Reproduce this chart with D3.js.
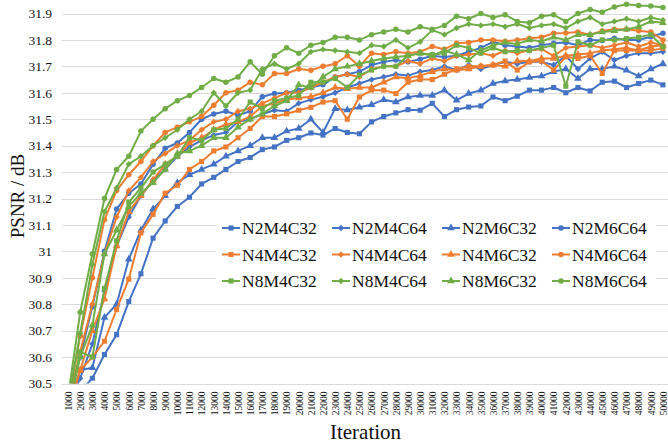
<!DOCTYPE html>
<html>
<head>
<meta charset="utf-8">
<script src="https://cdn.jsdelivr.net/npm/d3@7"></script>
<style>
  body { margin: 0; background: #fff; }
  svg { display: block; }
  svg text { font-family: 'Liberation Serif', 'Times New Roman', serif; }
</style>
</head>
<body>
<svg id="chart" width="668" height="443"></svg>
<script>
const iterations = [1000, 2000, 3000, 4000, 5000, 6000, 7000, 8000, 9000, 10000,
  11000, 12000, 13000, 14000, 15000, 16000, 17000, 18000, 19000, 20000,
  21000, 22000, 23000, 24000, 25000, 26000, 27000, 28000, 29000, 30000,
  31000, 32000, 33000, 34000, 35000, 36000, 37000, 38000, 39000, 40000,
  41000, 42000, 43000, 44000, 45000, 46000, 47000, 48000, 49000, 50000];

const yTicks = [30.5, 30.6, 30.7, 30.8, 30.9, 31, 31.1, 31.2, 31.3, 31.4, 31.5, 31.6, 31.7, 31.8, 31.9];

const n2m4c32 = [30.42, 30.47, 30.52, 30.61, 30.685, 30.81, 30.915, 31.05, 31.115, 31.17,
  31.205, 31.255, 31.28, 31.31, 31.34, 31.355, 31.385, 31.395, 31.42, 31.43,
  31.448, 31.44, 31.465, 31.45, 31.445, 31.49, 31.51, 31.524, 31.536, 31.534,
  31.56, 31.51, 31.536, 31.546, 31.55, 31.584, 31.57, 31.587, 31.61, 31.61,
  31.62, 31.60, 31.62, 31.607, 31.64, 31.644, 31.62, 31.635, 31.648, 31.63];
const n2m4c64 = [30.42, 30.52, 30.65, 30.85, 31.02, 31.13, 31.21, 31.27, 31.31, 31.36,
  31.395, 31.42, 31.44, 31.45, 31.49, 31.50, 31.52, 31.534, 31.53, 31.56,
  31.574, 31.585, 31.60, 31.62, 31.635, 31.65, 31.66, 31.67, 31.665, 31.68,
  31.686, 31.70, 31.686, 31.705, 31.69, 31.705, 31.717, 31.71, 31.717, 31.717,
  31.705, 31.74, 31.69, 31.73, 31.755, 31.724, 31.74, 31.75, 31.75, 31.755];
const n2m6c32 = [30.42, 30.55, 30.56, 30.75, 30.80, 30.97, 31.08, 31.16, 31.21, 31.26,
  31.29, 31.31, 31.33, 31.36, 31.38, 31.40, 31.43, 31.43, 31.455, 31.465,
  31.50, 31.45, 31.54, 31.535, 31.545, 31.555, 31.574, 31.565, 31.584, 31.59,
  31.59, 31.61, 31.572, 31.597, 31.61, 31.635, 31.645, 31.65, 31.658, 31.663,
  31.68, 31.69, 31.654, 31.69, 31.69, 31.70, 31.685, 31.663, 31.69, 31.71];
const n2m6c64 = [30.43, 30.60, 30.79, 31.00, 31.16, 31.22, 31.255, 31.33, 31.39, 31.41,
  31.45, 31.50, 31.52, 31.53, 31.515, 31.53, 31.585, 31.597, 31.60, 31.61,
  31.62, 31.63, 31.66, 31.67, 31.68, 31.705, 31.717, 31.724, 31.717, 31.727,
  31.74, 31.735, 31.74, 31.755, 31.77, 31.793, 31.78, 31.775, 31.77, 31.78,
  31.787, 31.79, 31.78, 31.80, 31.798, 31.806, 31.80, 31.80, 31.812, 31.825];

const n4m4c32 = [30.40, 30.55, 30.60, 30.66, 30.78, 30.895, 31.07, 31.14, 31.22, 31.25,
  31.31, 31.34, 31.38, 31.395, 31.43, 31.465, 31.51, 31.51, 31.52, 31.534,
  31.545, 31.565, 31.57, 31.50, 31.584, 31.61, 31.61, 31.597, 31.64, 31.65,
  31.65, 31.67, 31.69, 31.70, 31.70, 31.705, 31.72, 31.686, 31.717, 31.72,
  31.686, 31.736, 31.73, 31.74, 31.673, 31.76, 31.76, 31.76, 31.76, 31.768];
const n4m4c64 = [30.40, 30.62, 30.80, 30.99, 31.13, 31.23, 31.28, 31.34, 31.37, 31.40,
  31.42, 31.46, 31.49, 31.50, 31.53, 31.54, 31.56, 31.58, 31.60, 31.60,
  31.62, 31.64, 31.66, 31.67, 31.66, 31.69, 31.70, 31.70, 31.72, 31.71,
  31.73, 31.72, 31.74, 31.745, 31.75, 31.74, 31.76, 31.75, 31.76, 31.765,
  31.74, 31.77, 31.775, 31.78, 31.77, 31.78, 31.79, 31.775, 31.79, 31.78];
const n4m6c32 = [30.40, 30.55, 30.70, 30.82, 31.02, 31.15, 31.21, 31.27, 31.33, 31.36,
  31.41, 31.43, 31.46, 31.48, 31.49, 31.51, 31.55, 31.56, 31.575, 31.58,
  31.585, 31.60, 31.62, 31.615, 31.62, 31.62, 31.64, 31.66, 31.655, 31.665,
  31.68, 31.69, 31.685, 31.69, 31.70, 31.705, 31.70, 31.72, 31.72, 31.73,
  31.73, 31.74, 31.745, 31.75, 31.76, 31.765, 31.77, 31.76, 31.775, 31.78];
const n4m6c64 = [30.42, 30.68, 30.90, 31.12, 31.23, 31.29, 31.34, 31.40, 31.45, 31.47,
  31.49, 31.51, 31.553, 31.60, 31.61, 31.64, 31.63, 31.673, 31.673, 31.69,
  31.685, 31.70, 31.71, 31.74, 31.70, 31.75, 31.745, 31.755, 31.75, 31.755,
  31.775, 31.765, 31.787, 31.79, 31.80, 31.80, 31.795, 31.80, 31.806, 31.81,
  31.825, 31.826, 31.83, 31.82, 31.834, 31.84, 31.84, 31.835, 31.83, 31.80];

const n8m4c32 = [30.40, 30.62, 30.60, 30.86, 31.04, 31.186, 31.24, 31.30, 31.33, 31.36,
  31.43, 31.42, 31.46, 31.465, 31.50, 31.565, 31.54, 31.57, 31.58, 31.59,
  31.64, 31.64, 31.654, 31.62, 31.667, 31.686, 31.70, 31.70, 31.74, 31.75,
  31.745, 31.75, 31.78, 31.77, 31.75, 31.77, 31.755, 31.76, 31.76, 31.77,
  31.78, 31.625, 31.793, 31.78, 31.80, 31.80, 31.805, 31.81, 31.82, 31.774];
const n8m4c64 = [30.43, 30.69, 30.95, 31.15, 31.24, 31.33, 31.36, 31.40, 31.43, 31.46,
  31.50, 31.53, 31.60, 31.55, 31.60, 31.61, 31.69, 31.71, 31.69, 31.71,
  31.755, 31.764, 31.76, 31.755, 31.75, 31.78, 31.775, 31.80, 31.77, 31.793,
  31.837, 31.82, 31.845, 31.86, 31.855, 31.86, 31.85, 31.86, 31.845, 31.855,
  31.86, 31.845, 31.87, 31.885, 31.86, 31.87, 31.88, 31.87, 31.885, 31.875];
const n8m6c32 = [30.40, 30.60, 30.72, 30.99, 31.08, 31.17, 31.22, 31.26, 31.31, 31.37,
  31.38, 31.40, 31.43, 31.43, 31.47, 31.50, 31.52, 31.55, 31.57, 31.63,
  31.62, 31.66, 31.69, 31.70, 31.71, 31.72, 31.73, 31.735, 31.74, 31.75,
  31.74, 31.76, 31.745, 31.724, 31.76, 31.78, 31.79, 31.785, 31.80, 31.795,
  31.81, 31.80, 31.82, 31.82, 31.83, 31.835, 31.84, 31.85, 31.87, 31.865];
const n8m6c64 = [30.45, 30.77, 30.99, 31.20, 31.31, 31.36, 31.455, 31.50, 31.54, 31.57,
  31.59, 31.62, 31.654, 31.64, 31.66, 31.717, 31.67, 31.74, 31.77, 31.75,
  31.78, 31.79, 31.81, 31.81, 31.80, 31.82, 31.83, 31.84, 31.83, 31.85,
  31.84, 31.855, 31.89, 31.88, 31.90, 31.885, 31.895, 31.87, 31.865, 31.89,
  31.895, 31.87, 31.90, 31.915, 31.905, 31.925, 31.935, 31.93, 31.928, 31.923];

const seriesNames = ['N2M4C32', 'N2M4C64', 'N2M6C32', 'N2M6C64',
  'N4M4C32', 'N4M4C64', 'N4M6C32', 'N4M6C64',
  'N8M4C32', 'N8M4C64', 'N8M6C32', 'N8M6C64'];
const seriesValues = [n2m4c32, n2m4c64, n2m6c32, n2m6c64,
  n4m4c32, n4m4c64, n4m6c32, n4m6c64,
  n8m4c32, n8m4c64, n8m6c32, n8m6c64];

const plotLeft = 62,
  plotRight = 669,
  plotTop = 13.5,
  plotBottom = 383.5,
  serif = "'Liberation Serif', 'Times New Roman', serif",
  colors = ['#4472C4', '#ED7D31', '#70AD47'],
  symbols = [
    { type: d3.symbolSquare, size: 26, rotate: 0 },
    { type: d3.symbolSquare, size: 20, rotate: 45 },
    { type: d3.symbolTriangle, size: 26, rotate: 0 },
    { type: d3.symbolCircle, size: 24, rotate: 0 }
  ];

const series = seriesNames.map((name, i) => ({
  name,
  color: colors[Math.floor(i / 4)],
  symbol: symbols[i % 4],
  values: seriesValues[i]
}));

const svg = d3.select('#chart');

const x = d3.scalePoint().domain(iterations).range([plotLeft, plotRight]).padding(0.5);
const y = d3.scaleLinear().domain([30.5, 31.9]).range([plotBottom, plotTop]);

// gridlines
svg.append('g')
  .selectAll('line')
  .data(yTicks)
  .join('line')
  .attr('x1', plotLeft)
  .attr('x2', plotRight)
  .attr('y1', d => Math.round(y(d)) + 0.5)
  .attr('y2', d => Math.round(y(d)) + 0.5)
  .attr('stroke', '#D9D9D9')
  .attr('stroke-width', 1);

// y axis labels
const yAxis = svg.append('g')
  .attr('transform', `translate(${plotLeft - 10},0)`)
  .attr('font-family', serif)
  .call(d3.axisLeft(y).tickValues(yTicks).tickSize(0).tickFormat(d => String(+d.toFixed(1))));
yAxis.attr('font-family', serif);
yAxis.select('.domain').remove();
yAxis.selectAll('text')
  .attr('x', 0)
  .style('font-family', serif)
  .style('font-size', '13.5px')
  .attr('fill', '#111');

// x axis labels, rotated
const xAxis = svg.append('g')
  .attr('transform', `translate(0,${plotBottom})`)
  .call(d3.axisBottom(x).tickSize(0).tickFormat(d => String(d)));
xAxis.attr('font-family', serif);
xAxis.select('.domain').remove();
xAxis.selectAll('text')
  .attr('transform', 'rotate(-90)')
  .attr('x', -8)
  .attr('y', 0)
  .attr('dy', '0.35em')
  .style('text-anchor', 'end')
  .style('font-family', serif)
  .style('font-size', '9.5px')
  .attr('fill', '#111');

// axis titles
svg.append('text')
  .attr('transform', 'translate(24,196) rotate(-90)')
  .attr('text-anchor', 'middle')
  .style('font-family', serif)
  .style('font-size', '19px')
  .attr('fill', '#111')
  .text('PSNR / dB');

svg.append('text')
  .attr('x', (plotLeft + plotRight) / 2)
  .attr('y', 439)
  .attr('text-anchor', 'middle')
  .style('font-family', serif)
  .style('font-size', '21px')
  .attr('fill', '#111')
  .text('Iteration');

// clip at the bottom of the plot area
svg.append('clipPath')
  .attr('id', 'plot-clip')
  .append('rect')
  .attr('x', plotLeft)
  .attr('y', 0)
  .attr('width', plotRight - plotLeft)
  .attr('height', plotBottom);

const line = d3.line()
  .x((d, i) => x(iterations[i]))
  .y(d => y(d));

const symbolPath = s => d3.symbol().type(s.type).size(s.size)();

const plot = svg.append('g').attr('clip-path', 'url(#plot-clip)');

const groups = plot.selectAll('g.series')
  .data(series)
  .join('g')
  .attr('class', 'series');

groups.append('path')
  .attr('d', d => line(d.values))
  .attr('fill', 'none')
  .attr('stroke', d => d.color)
  .attr('stroke-width', 2)
  .attr('stroke-linejoin', 'round');

groups.each(function(s) {
  d3.select(this)
    .selectAll('path.mark')
    .data(s.values)
    .join('path')
    .attr('class', 'mark')
    .attr('d', symbolPath(s.symbol))
    .attr('transform', (d, i) => `translate(${x(iterations[i])},${y(d)}) rotate(${s.symbol.rotate})`)
    .attr('fill', s.color);
});

// legend
const legend = svg.append('g');
legend.append('rect')
  .attr('x', 216)
  .attr('y', 214)
  .attr('width', 440)
  .attr('height', 82)
  .attr('fill', '#fff');

const items = legend.selectAll('g.item')
  .data(series)
  .join('g')
  .attr('class', 'item')
  .attr('transform', (d, i) => `translate(${222 + (i % 4) * 110},${228 + Math.floor(i / 4) * 26.5})`);

items.append('line')
  .attr('x1', 0)
  .attr('x2', 18)
  .attr('stroke', d => d.color)
  .attr('stroke-width', 2);

items.append('path')
  .attr('d', d => symbolPath(d.symbol))
  .attr('transform', d => `translate(9,0) rotate(${d.symbol.rotate})`)
  .attr('fill', d => d.color);

items.append('text')
  .attr('x', 20)
  .attr('dy', '0.35em')
  .style('font-family', serif)
  .style('font-size', '17.5px')
  .attr('fill', '#111')
  .text(d => d.name);
</script>
</body>
</html>
